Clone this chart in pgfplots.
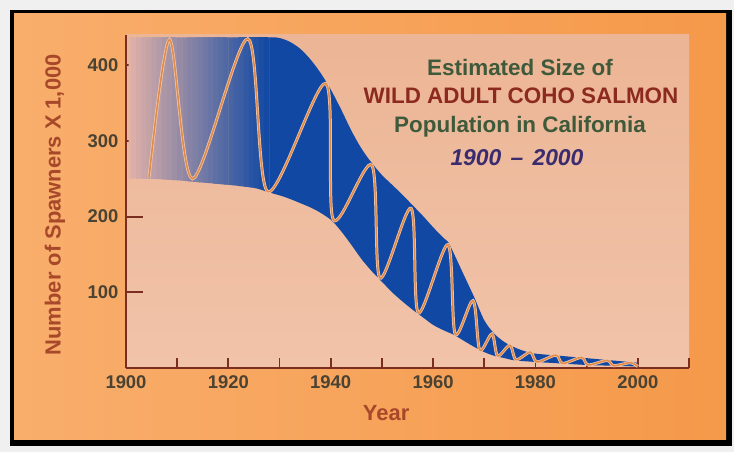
\documentclass[border=0pt]{standalone}
\usepackage{pgfplots}
\pgfplotsset{compat=1.18}
\usepgfplotslibrary{fillbetween}
\usepackage{fontspec}
\setmainfont{Liberation Sans}
\definecolor{orangeL}{HTML}{F9AE6C}
\definecolor{orangeR}{HTML}{F5994A}
\definecolor{pinkTop}{HTML}{ECB595}
\definecolor{pinkBot}{HTML}{F1C3A9}
\definecolor{bandblue}{HTML}{1048A3}
\definecolor{fadeL}{HTML}{E6B4A8}
\definecolor{axisred}{HTML}{7A2E20}
\definecolor{ticktext}{HTML}{4A4232}
\definecolor{labelred}{HTML}{A8482A}
\definecolor{titlegreen}{HTML}{3F5A3A}
\definecolor{titlered}{HTML}{8C2A20}
\definecolor{titlepurple}{HTML}{3A2C6E}
\definecolor{waveorange}{HTML}{E08A45}
\definecolor{wavehalo}{HTML}{F2C6AC}
\pgfplotsset{
 layers/framed/.define layer set={frame,axis background,axis grid,axis ticks,axis lines,axis tick labels,pre main,main,axis descriptions,axis foreground}{
  grid style={/pgfplots/on layer=axis grid},
  tick style={/pgfplots/on layer=axis ticks},
  axis line style={/pgfplots/on layer=axis lines},
  label style={/pgfplots/on layer=axis descriptions},
  legend style={/pgfplots/on layer=axis descriptions},
  title style={/pgfplots/on layer=axis descriptions},
  colorbar style={/pgfplots/on layer=axis descriptions},
  ticklabel style={/pgfplots/on layer=axis tick labels},
  axis background@ style={/pgfplots/on layer=axis background},
  3d box foreground style={/pgfplots/on layer=axis foreground},
 },
}
\begin{document}
\begin{tikzpicture}[x=1bp,y=1bp]
\begin{axis}[
  set layers=framed,
  at={(126bp,84bp)}, anchor=south west,
  scale only axis, width=563bp, height=333bp,
  xmin=1900, xmax=2010, ymin=0, ymax=440,
  axis lines=left,
  axis line style={-, draw=axisred, line width=1.8bp},
  axis background/.style={shade, top color=pinkTop, bottom color=pinkBot},
  tick align=inside,
  major tick length=10bp,
  tick style={draw=axisred, line width=1.8bp},
  ytick style={/pgfplots/major tick length=17bp},
  xtick={1900,1910,...,2010},
  xticklabels={1900,,1920,,1940,,1960,,1980,,2000,},
  ytick={100,200,300,400},
  /pgf/number format/assume math mode=true,
  tick label style={font=\fontsize{18.5}{22}\selectfont\bfseries, text=ticktext},
  xticklabel style={yshift=-4bp},
  yticklabel style={xshift=-4bp},
  xlabel={Year},
  ylabel={Number of Spawners X 1,000},
  every axis x label/.style={at={(axis description cs:0.462,-0.135)}, anchor=center,
    font=\fontsize{22}{26}\selectfont\bfseries, text=labelred},
  every axis y label/.style={at={(axis description cs:-0.126,0.49)}, anchor=center, rotate=90,
    font=\fontsize{22}{26}\selectfont\bfseries, text=labelred},
  clip=false,
]
\begin{pgfonlayer}{frame}
\fill[black!6] (rel axis cs:-0.2238,-0.2523) rectangle (rel axis cs:1.0799,1.1051);
\fill[black] (rel axis cs:-0.2060,-0.2342) rectangle (rel axis cs:1.0764,1.0751);
\shade[left color=orangeL, right color=orangeR] (rel axis cs:-0.1989,-0.2162) rectangle (rel axis cs:1.0657,1.0631);
\end{pgfonlayer}
\addplot[name path=upper, draw=none, smooth, tension=0.5] coordinates {
 (1900.5,437) (1910,437) (1920,437) (1928,437) (1930,436) (1932,431) (1934,422)
 (1936,408) (1938,390) (1940,368) (1942,342) (1944,314) (1946,290) (1948,271)
 (1950,255) (1952,242) (1954,229) (1956,215) (1958,201) (1960,186) (1962,172)
 (1963,166) (1964,152) (1966,123) (1968,94) (1970,63) (1972,45) (1974,34)
 (1976,27) (1978,22) (1980,19) (1985,16) (1990,13) (1995,10) (2000,7)};
\addplot[name path=lower, draw=none, smooth, tension=0.5] coordinates {
 (1900.5,250) (1905,250) (1910,248) (1915,245) (1920,242) (1925,238) (1928,232)
 (1931,226) (1934,218) (1937,209) (1940,196) (1942,181) (1944,163) (1946,144)
 (1948,128) (1950,114) (1952,100) (1954,88) (1956,77) (1958,67) (1960,57)
 (1962,50) (1964,44) (1966,36) (1968,28) (1970,21) (1972,16) (1974,13)
 (1976,10) (1980,8) (1985,6) (1990,4) (1995,3) (2000,2)};
\addplot[fill=bandblue!2!fadeL, draw=none] fill between[of=upper and lower, soft clip={domain=1900:1901.05}];
\addplot[fill=bandblue!5!fadeL, draw=none] fill between[of=upper and lower, soft clip={domain=1901:1902.05}];
\addplot[fill=bandblue!9!fadeL, draw=none] fill between[of=upper and lower, soft clip={domain=1902:1903.05}];
\addplot[fill=bandblue!13!fadeL, draw=none] fill between[of=upper and lower, soft clip={domain=1903:1904.05}];
\addplot[fill=bandblue!16!fadeL, draw=none] fill between[of=upper and lower, soft clip={domain=1904:1905.05}];
\addplot[fill=bandblue!20!fadeL, draw=none] fill between[of=upper and lower, soft clip={domain=1905:1906.05}];
\addplot[fill=bandblue!23!fadeL, draw=none] fill between[of=upper and lower, soft clip={domain=1906:1907.05}];
\addplot[fill=bandblue!27!fadeL, draw=none] fill between[of=upper and lower, soft clip={domain=1907:1908.05}];
\addplot[fill=bandblue!30!fadeL, draw=none] fill between[of=upper and lower, soft clip={domain=1908:1909.05}];
\addplot[fill=bandblue!34!fadeL, draw=none] fill between[of=upper and lower, soft clip={domain=1909:1910.05}];
\addplot[fill=bandblue!38!fadeL, draw=none] fill between[of=upper and lower, soft clip={domain=1910:1911.05}];
\addplot[fill=bandblue!41!fadeL, draw=none] fill between[of=upper and lower, soft clip={domain=1911:1912.05}];
\addplot[fill=bandblue!45!fadeL, draw=none] fill between[of=upper and lower, soft clip={domain=1912:1913.05}];
\addplot[fill=bandblue!48!fadeL, draw=none] fill between[of=upper and lower, soft clip={domain=1913:1914.05}];
\addplot[fill=bandblue!52!fadeL, draw=none] fill between[of=upper and lower, soft clip={domain=1914:1915.05}];
\addplot[fill=bandblue!55!fadeL, draw=none] fill between[of=upper and lower, soft clip={domain=1915:1916.05}];
\addplot[fill=bandblue!59!fadeL, draw=none] fill between[of=upper and lower, soft clip={domain=1916:1917.05}];
\addplot[fill=bandblue!63!fadeL, draw=none] fill between[of=upper and lower, soft clip={domain=1917:1918.05}];
\addplot[fill=bandblue!66!fadeL, draw=none] fill between[of=upper and lower, soft clip={domain=1918:1919.05}];
\addplot[fill=bandblue!70!fadeL, draw=none] fill between[of=upper and lower, soft clip={domain=1919:1920.05}];
\addplot[fill=bandblue!73!fadeL, draw=none] fill between[of=upper and lower, soft clip={domain=1920:1921.05}];
\addplot[fill=bandblue!77!fadeL, draw=none] fill between[of=upper and lower, soft clip={domain=1921:1922.05}];
\addplot[fill=bandblue!80!fadeL, draw=none] fill between[of=upper and lower, soft clip={domain=1922:1923.05}];
\addplot[fill=bandblue!84!fadeL, draw=none] fill between[of=upper and lower, soft clip={domain=1923:1924.05}];
\addplot[fill=bandblue!88!fadeL, draw=none] fill between[of=upper and lower, soft clip={domain=1924:1925.05}];
\addplot[fill=bandblue!91!fadeL, draw=none] fill between[of=upper and lower, soft clip={domain=1925:1926.05}];
\addplot[fill=bandblue!95!fadeL, draw=none] fill between[of=upper and lower, soft clip={domain=1926:1927.05}];
\addplot[fill=bandblue!98!fadeL, draw=none] fill between[of=upper and lower, soft clip={domain=1927:1928.05}];
\addplot[fill=bandblue, draw=none] fill between[of=upper and lower, soft clip={domain=1928:2001}];
\pgfplotstableread{
x y
1904.5 252
1908.5 434
1913 250
1923.8 435
1927.7 233
1939 376
1940.5 196
1948 268
1949.6 119
1955.7 211
1957.1 73
1962.9 163
1964.3 45
1967.8 89
1969.1 24
1971.5 45
1972.6 16
1975 30
1976.2 11
1979 21
1980.3 8
1984 17
1985.3 6
1989 14
1990.3 4
1994 10
1995.3 3
1998.5 7
2000 2
}\wave
\addplot[wavehalo, line width=3bp, smooth, tension=0.5] table {\wave};
\addplot[waveorange, line width=1.5bp, smooth, tension=0.5] table {\wave};
\end{axis}
\node[anchor=base, font=\fontsize{22.5}{26}\selectfont\bfseries, text=titlegreen] at (520,376) {Estimated Size of};
\node[anchor=base, font=\fontsize{22.5}{26}\selectfont\bfseries, text=titlered] at (521,348) {WILD ADULT COHO SALMON};
\node[anchor=base, font=\fontsize{22.5}{26}\selectfont\bfseries, text=titlegreen] at (520,319) {Population in California};
\node[anchor=base, font=\fontsize{23}{26}\selectfont\bfseries\itshape, text=titlepurple] at (517,286) {1900\hspace{0.4em}--\hspace{0.4em}2000};
\end{tikzpicture}
\end{document}
